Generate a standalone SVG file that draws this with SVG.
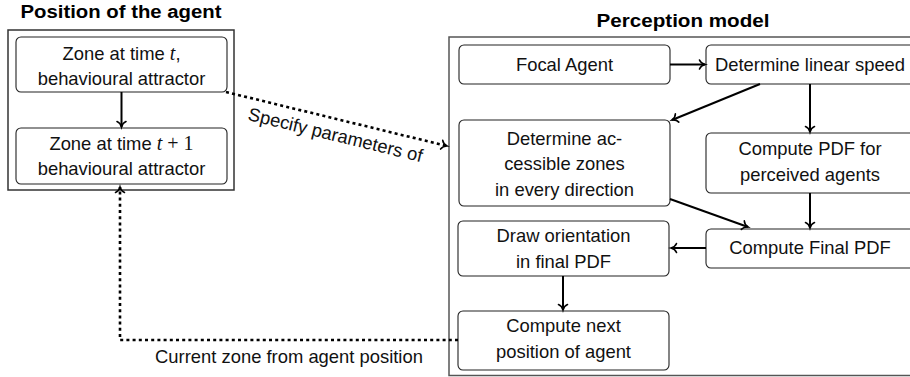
<svg xmlns="http://www.w3.org/2000/svg" width="910" height="377" viewBox="0 0 910 377">
  <defs>
    <marker id="arr" markerUnits="userSpaceOnUse" markerWidth="12" markerHeight="12" viewBox="-7 -6 8 12" refX="0" refY="0" orient="auto">
      <path d="M -5.5 -4.5 C -4.5 -2 -1.8 -0.5 0 0 C -1.8 0.5 -4.5 2 -5.5 4.5" fill="none" stroke="#000" stroke-width="1.6" stroke-linecap="round"/>
    </marker>
    <style>
      .outer { fill: none; stroke: #555; stroke-width: 1.5; }
      .node rect { fill: #fff; stroke: #222; stroke-width: 1.1; }
      .node text, .lbl { font-family: "Liberation Sans", Arial, sans-serif; font-size: 18.4px; fill: #111; text-anchor: middle; }
      .title { font-family: "Liberation Sans", Arial, sans-serif; font-weight: bold; font-size: 18px; fill: #000; text-anchor: middle; }
      .math { font-family: "Liberation Serif", "Times New Roman", serif; font-size: 20px; }
      .conn line, .conn polyline { fill: none; stroke: #000; stroke-width: 2; marker-end: url(#arr); }
      .conn .dot { stroke-width: 2.6; stroke-dasharray: 3 3.2; }
    </style>
  </defs>

  <rect width="910" height="377" fill="#fff"/>

  <!-- containers -->
  <g id="position-of-agent">
    <text class="title" x="121" y="18" textLength="201" lengthAdjust="spacingAndGlyphs">Position of the agent</text>
    <rect class="outer" x="8" y="30" width="226" height="160" style="stroke:#333"/>
  </g>
  <g id="perception-model">
    <text class="title" x="683" y="27" textLength="173" lengthAdjust="spacingAndGlyphs">Perception model</text>
    <rect class="outer" x="449" y="37" width="480" height="338.5"/>
  </g>

  <!-- nodes -->
  <g id="zone-t" class="node">
    <rect x="16" y="37" width="211" height="55" rx="5"/>
    <text x="121.5" y="60">Zone at time <tspan class="math" font-style="italic">t</tspan>,</text>
    <text x="121.5" y="85">behavioural attractor</text>
  </g>
  <g id="zone-t1" class="node">
    <rect x="16" y="128" width="211" height="56" rx="5"/>
    <text x="121.5" y="150">Zone at time <tspan class="math" font-style="italic">t</tspan><tspan class="math"> + 1</tspan></text>
    <text x="121.5" y="175">behavioural attractor</text>
  </g>
  <g id="focal-agent" class="node">
    <rect x="459" y="45" width="211" height="39" rx="5"/>
    <text x="564.5" y="71">Focal Agent</text>
  </g>
  <g id="linear-speed" class="node">
    <rect x="706" y="45" width="210" height="39" rx="5"/>
    <text x="810" y="71">Determine linear speed</text>
  </g>
  <g id="accessible-zones" class="node">
    <rect x="459" y="120" width="211" height="86" rx="5"/>
    <text x="564.5" y="145">Determine ac-</text>
    <text x="564.5" y="170">cessible zones</text>
    <text x="564.5" y="196">in every direction</text>
  </g>
  <g id="pdf-perceived" class="node">
    <rect x="706" y="133" width="210" height="60" rx="5"/>
    <text x="810" y="155">Compute PDF for</text>
    <text x="810" y="181">perceived agents</text>
  </g>
  <g id="final-pdf" class="node">
    <rect x="706" y="229" width="210" height="39" rx="5"/>
    <text x="810" y="254">Compute Final PDF</text>
  </g>
  <g id="draw-orientation" class="node">
    <rect x="458" y="221" width="211" height="55" rx="5"/>
    <text x="563.5" y="242">Draw orientation</text>
    <text x="563.5" y="268">in final PDF</text>
  </g>
  <g id="next-position" class="node">
    <rect x="458" y="311" width="211" height="59" rx="5"/>
    <text x="563.5" y="332">Compute next</text>
    <text x="563.5" y="358">position of agent</text>
  </g>

  <!-- connectors -->
  <g id="connectors" class="conn">
    <line x1="121.5" y1="92" x2="121.5" y2="127"/>
    <line x1="670" y1="64.5" x2="705" y2="64.5"/>
    <line x1="760" y1="84" x2="672" y2="120"/>
    <line x1="810" y1="84" x2="810" y2="132"/>
    <line x1="810" y1="193" x2="810" y2="228"/>
    <line x1="670" y1="199" x2="748" y2="227"/>
    <line x1="706" y1="248" x2="671" y2="248"/>
    <line x1="563" y1="276" x2="563" y2="310"/>
    <line class="dot" x1="226" y1="92" x2="447" y2="146"/>
    <polyline class="dot" points="458,340 120,340 120,187"/>
  </g>

  <!-- connector labels -->
  <text class="lbl" x="334" y="141" transform="rotate(13.7 334 141)">Specify parameters of</text>
  <text class="lbl" x="289" y="363">Current zone from agent position</text>
</svg>
